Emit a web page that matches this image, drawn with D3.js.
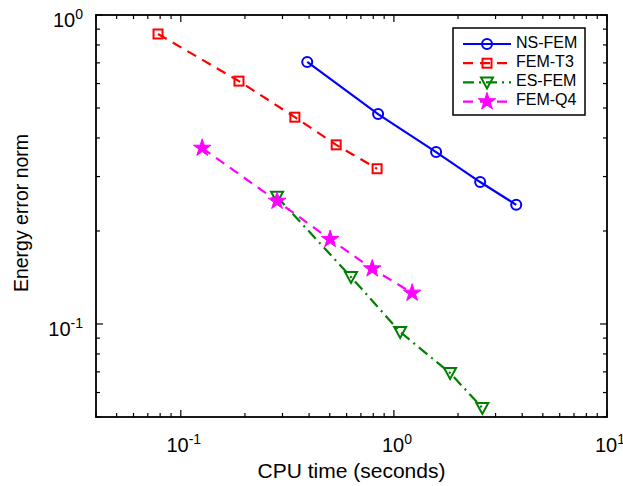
<!DOCTYPE html>
<html>
<head>
<meta charset="utf-8">
<script src="https://cdn.jsdelivr.net/npm/d3@7"></script>
<style>
  body { margin: 0; background: #fff; }
  text { font-family: "Liberation Sans", Arial, sans-serif; fill: #000; }
</style>
</head>
<body>
<div class="Chart"></div>
<script>
// data
var nsTime  = [0.392, 0.843, 1.578, 2.54, 3.75];
var nsErr   = [0.705, 0.478, 0.360, 0.288, 0.243];
var t3Time  = [0.0782, 0.1875, 0.343, 0.536, 0.834];
var t3Err   = [0.868, 0.611, 0.467, 0.380, 0.318];
var esTime  = [0.283, 0.629, 1.07, 1.835, 2.60];
var esErr   = [0.258, 0.142, 0.0942, 0.0694, 0.0535];
var q4Time  = [0.126, 0.283, 0.502, 0.791, 1.218];
var q4Err   = [0.371, 0.250, 0.188, 0.151, 0.126];
var seriesNames = ["NS-FEM", "FEM-T3", "ES-FEM", "FEM-Q4"];
var xTicks = [0.1, 1, 10];
var yTicks = [0.1, 1];

var width = 623, height = 486;
var plotLeft = 96, plotRight = 607, plotTop = 15, plotBottom = 417;

var svg = d3.select('.Chart').append('svg')
	.attr('width', width)
	.attr('height', height);

var x = d3.scaleLog().domain([0.04, 10]).range([plotLeft, plotRight]);
var y = d3.scaleLog().domain([0.05, 1]).range([plotBottom, plotTop]);

//minor ticks
var xMinor = [], yMinor = [];
[0.01, 0.1, 1].forEach(function(b){
	for (var i = 2; i <= 9; i++) {
		var v = b * i;
		if (v >= 0.04 && v <= 10) xMinor.push(v);
		if (v >= 0.05 && v <= 1) yMinor.push(v);
	}
});

var series = [
	{ name: seriesNames[0], t: nsTime, e: nsErr, color: "#0000ff", dash: null, marker: "circle" },
	{ name: seriesNames[1], t: t3Time, e: t3Err, color: "#ff0000", dash: "10,7", marker: "square" },
	{ name: seriesNames[2], t: esTime, e: esErr, color: "#008000", dash: "11,5,2,5", marker: "triangle" },
	{ name: seriesNames[3], t: q4Time, e: q4Err, color: "#ff00ff", dash: "10,7", marker: "star" }
];

var plot = svg.append('g');

var line = d3.line()
	.x(function(d){ return x(d[0]); })
	.y(function(d){ return y(d[1]); });

function drawMarker(g, type, color, cx, cy) {
	if (type === "circle") {
		g.append("circle").attr("cx", cx).attr("cy", cy).attr("r", 5)
			.style("fill", "none").style("stroke", color).style("stroke-width", 2);
	} else if (type === "square") {
		g.append("rect").attr("x", cx - 4.5).attr("y", cy - 4.5).attr("width", 9).attr("height", 9)
			.style("fill", "none").style("stroke", color).style("stroke-width", 2);
	} else if (type === "triangle") {
		g.append("path")
			.attr("d", "M" + (cx - 6) + "," + (cy - 5) + "L" + (cx + 6) + "," + (cy - 5) + "L" + cx + "," + (cy + 6) + "Z")
			.style("fill", "none").style("stroke", color).style("stroke-width", 2);
	} else if (type === "star") {
		g.append("path")
			.attr("d", d3.symbol().type(d3.symbolStar).size(95)())
			.attr("transform", "translate(" + cx + "," + cy + ")")
			.style("fill", color).style("stroke", color).style("stroke-width", 1);
	}
}

series.forEach(function(s){
	var pts = s.t.map(function(t, i){ return [t, s.e[i]]; });
	plot.append("path")
		.attr("d", line(pts))
		.style("fill", "none")
		.style("stroke", s.color)
		.style("stroke-width", 2.2)
		.style("stroke-dasharray", s.dash);
	pts.forEach(function(p){
		drawMarker(plot, s.marker, s.color, x(p[0]), y(p[1]));
	});
});

//axes box with inward ticks
var ax = svg.append('g').style("stroke", "#000").style("stroke-width", 1.2);
ax.append("rect")
	.attr("x", plotLeft).attr("y", plotTop)
	.attr("width", plotRight - plotLeft).attr("height", plotBottom - plotTop)
	.style("fill", "none").style("stroke-width", 1.8);

xMinor.forEach(function(v){
	ax.append("line").attr("x1", x(v)).attr("x2", x(v)).attr("y1", plotBottom).attr("y2", plotBottom - 4);
	ax.append("line").attr("x1", x(v)).attr("x2", x(v)).attr("y1", plotTop).attr("y2", plotTop + 4);
});
xTicks.forEach(function(v){
	ax.append("line").attr("x1", x(v)).attr("x2", x(v)).attr("y1", plotBottom).attr("y2", plotBottom - 7);
	ax.append("line").attr("x1", x(v)).attr("x2", x(v)).attr("y1", plotTop).attr("y2", plotTop + 7);
});
yMinor.forEach(function(v){
	ax.append("line").attr("x1", plotLeft).attr("x2", plotLeft + 4).attr("y1", y(v)).attr("y2", y(v));
	ax.append("line").attr("x1", plotRight).attr("x2", plotRight - 4).attr("y1", y(v)).attr("y2", y(v));
});
yTicks.forEach(function(v){
	ax.append("line").attr("x1", plotLeft).attr("x2", plotLeft + 7).attr("y1", y(v)).attr("y2", y(v));
	ax.append("line").attr("x1", plotRight).attr("x2", plotRight - 7).attr("y1", y(v)).attr("y2", y(v));
});

//tick labels as 10^n
function powLabel(g, v, px, py, anchor) {
	var t = g.append("text").attr("x", px).attr("y", py)
		.attr("text-anchor", anchor).style("font-size", "20px");
	t.append("tspan").text("10");
	t.append("tspan").attr("dy", -8).style("font-size", "14px").text(Math.round(Math.log10(v)));
}
xTicks.forEach(function(v){
	powLabel(svg, v, x(v) + 3, plotBottom + 35, "middle");
});
yTicks.forEach(function(v){
	powLabel(svg, v, plotLeft - 13, y(v) + 12, "end");
});

svg.append("text")
	.attr("x", (plotLeft + plotRight) / 2).attr("y", 478)
	.attr("text-anchor", "middle")
	.style("font-size", "21px")
	.text("CPU time (seconds)");

svg.append("text")
	.attr("transform", "translate(28,213) rotate(-90)")
	.attr("text-anchor", "middle")
	.style("font-size", "19.5px")
	.text("Energy error norm");

//legend
var lg = svg.append("g");
lg.append("rect")
	.attr("x", 453).attr("y", 28).attr("width", 132).attr("height", 87)
	.style("fill", "#fff").style("stroke", "#000").style("stroke-width", 1.5);
series.forEach(function(s, i){
	var ly = 44 + i * 19.2;
	lg.append("line")
		.attr("x1", 463).attr("x2", 511).attr("y1", ly).attr("y2", ly)
		.style("stroke", s.color).style("stroke-width", 2.2)
		.style("stroke-dasharray", s.dash);
	drawMarker(lg, s.marker, s.color, 487, ly);
	lg.append("text")
		.attr("x", 516).attr("y", ly + 3.5)
		.style("font-size", "16px")
		.text(s.name);
});
</script>
</body>
</html>
